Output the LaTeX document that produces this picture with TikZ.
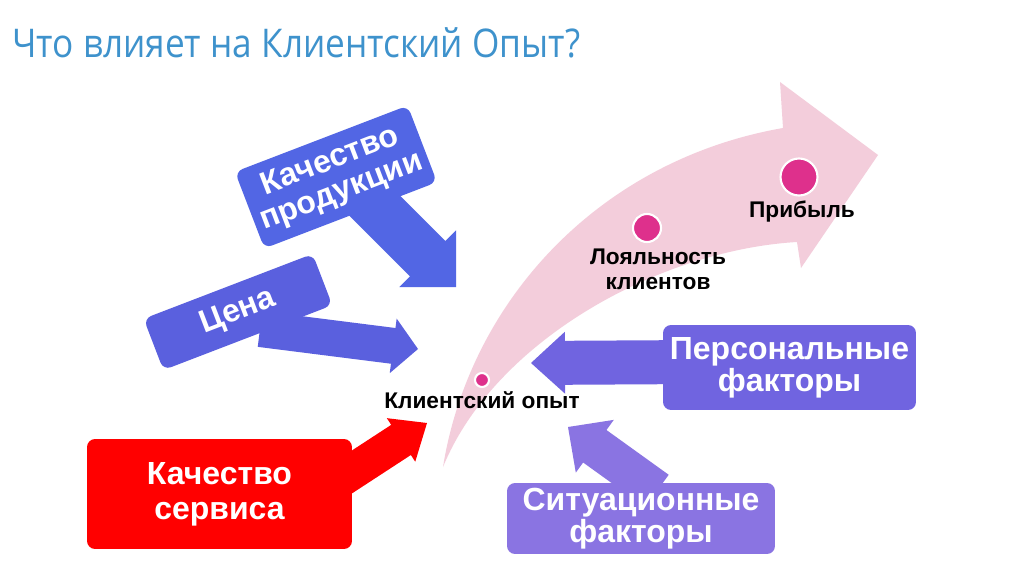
\documentclass[tikz,border=0pt]{standalone}
\usepackage{fontspec}
\setmainfont{Liberation Sans}
\newfontfamily\titlefont[FakeStretch=0.89]{Open Sans}
\usetikzlibrary{calc}
\definecolor{titleblue}{RGB}{62,146,204}
\definecolor{prodblue}{RGB}{82,102,228}
\definecolor{priceblue}{RGB}{90,96,222}
\definecolor{persviolet}{RGB}{112,100,224}
\definecolor{sitviolet}{RGB}{138,116,226}
\definecolor{servred}{RGB}{255,0,0}
\definecolor{flowpink}{RGB}{243,205,219}
\definecolor{dotmagenta}{RGB}{222,48,140}

% block arrow: colour, start, tip, half shaft, half head, head length
\newcommand{\blockarrow}[6]{%
  \coordinate (ba-base) at ($(#3)!#6!(#2)$);
  \fill[#1] ($(#2)!#4!90:(#3)$) -- ($(ba-base)!#4!90:(#3)$) -- ($(ba-base)!#5!90:(#3)$) -- (#3)
    -- ($(ba-base)!#5!-90:(#3)$) -- ($(ba-base)!#4!-90:(#3)$) -- ($(#2)!#4!-90:(#3)$) -- cycle;
}

\begin{document}
\begin{tikzpicture}[x=0.02cm, y=-0.02cm,
    factor/.style={rounded corners=0.16cm, text=white, align=center, inner sep=0pt,
      font=\bfseries\fontsize{18.2pt}{18.4pt}\selectfont},
    stage/.style={align=center, inner sep=0pt, font=\bfseries\fontsize{12.9pt}{14.2pt}\selectfont},
    stagedot/.style={circle, fill=dotmagenta, draw=white, line width=1.2pt, inner sep=0pt}]
    \useasboundingbox[fill=white] (0,0) rectangle (1024,574);

    % Title
    \node[anchor=base west, inner sep=0pt, text=titleblue, font=\titlefont\fontsize{22.5pt}{26pt}\selectfont]
        (title) at (12,58) {Что влияет на Клиентский Опыт?};

    % Pink flow arrow
    \fill[flowpink] (443,467) .. controls (470,300) and (600,160) .. (783,128)
        -- (780,82) -- (878,155) -- (801,268) -- (797,242)
        .. controls (660,250) and (495,340) .. (443,467) -- cycle;

    % Arrow ends
    \coordinate (prod-start) at (345,176);
    \coordinate (prod-tip) at (456,287);
    \coordinate (price-start) at (260,329);
    \coordinate (price-tip) at (418,349);
    \coordinate (serv-start) at (335,483);
    \coordinate (serv-tip) at (427,423);
    \coordinate (pers-start) at (700,362);
    \coordinate (pers-tip) at (531,363);
    \coordinate (sit-start) at (657,491);
    \coordinate (sit-tip) at (568,427);

    % Factor arrows
    \blockarrow{prodblue}{prod-start}{prod-tip}{0.5cm}{0.8cm}{0.8cm}
    \blockarrow{priceblue}{price-start}{price-tip}{0.36cm}{0.55cm}{0.5cm}
    \blockarrow{servred}{serv-start}{serv-tip}{0.36cm}{0.52cm}{0.62cm}
    \blockarrow{persviolet}{pers-start}{pers-tip}{0.44cm}{0.62cm}{0.68cm}
    \blockarrow{sitviolet}{sit-start}{sit-tip}{0.4cm}{0.65cm}{0.66cm}

    % Factor boxes
    \node[factor, fill=prodblue, rotate=21, minimum width=3.7cm, minimum height=1.64cm]
        (prod) at (336,177) {Качество\\продукции};
    \node[factor, fill=priceblue, rotate=21, minimum width=3.62cm, minimum height=1.1cm]
        (price) at (238,312) {Цена};
    \node[factor, fill=servred, minimum width=5.3cm, minimum height=2.2cm,
        font=\bfseries\fontsize{18.2pt}{19.8pt}\selectfont]
        (serv) at (219.5,494) {Качество\\сервиса};
    \node[factor, fill=persviolet, minimum width=5.06cm, minimum height=1.7cm]
        (pers) at (789.5,367.5) {Персональные\\факторы};
    \node[factor, fill=sitviolet, minimum width=5.36cm, minimum height=1.42cm]
        (sit) at (641,518.5) {Ситуационные\\факторы};

    % Stages on the flow
    \node[stagedot, minimum size=0.28cm] (exp-dot) at (482,380) {};
    \node[stagedot, minimum size=0.56cm] (loyal-dot) at (647,228) {};
    \node[stagedot, minimum size=0.74cm] (profit-dot) at (799,177) {};
    \node[stage, anchor=base] (exp) at (482,408) {Клиентский опыт};
    \node[stage] (loyal) at (658,269) {Лояльность\\клиентов};
    \node[stage, anchor=base] (profit) at (802,217) {Прибыль};
\end{tikzpicture}
\end{document}
